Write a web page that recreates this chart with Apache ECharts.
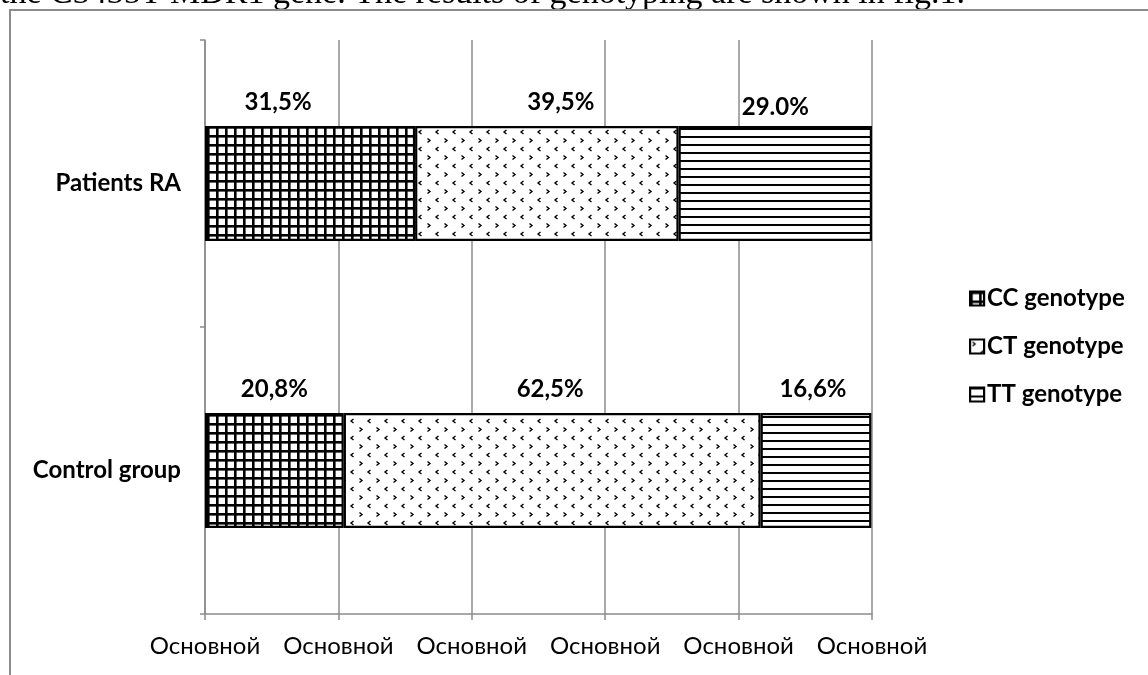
<!DOCTYPE html>
<html>
<head>
<meta charset="utf-8">
<script src="https://cdn.jsdelivr.net/npm/echarts@6/dist/echarts.min.js"></script>
<style>
  html, body { margin: 0; padding: 0; background: #fff; }
  #chart { width: 1148px; height: 675px; }
</style>
</head>
<body>
<div id="chart"></div>
<script>
// Groups on the category axis (bottom to top)
const groups = ['Control group', 'Patients RA'];
// Genotype shares, % (order follows groups)
const ccValues = [20.8, 31.5];
const ctValues = [62.5, 39.5];
const ttValues = [16.6, 29.0];
// Percent labels as printed above each segment
const ccLabels = ['20,8%', '31,5%'];
const ctLabels = ['62,5%', '39,5%'];
const ttLabels = ['16,6%', '29.0%'];
// Series names
const seriesNames = ['CC genotype', 'CT genotype', 'TT genotype'];
// x-axis tick text
const xTickText = 'Основной';

const FONT = 'Lato, "Open Sans", sans-serif';

// Hand-placed label nudges [dx, dy] per series, per group
const labelNudges = [
  [[0, 0], [-32, 0]],
  [[-2, 0], [14, 0]],
  [[-3, 0], [0, 5]]
];

// Fill patterns built on small canvases
function makeTile(w, h, draw) {
  const c = document.createElement('canvas');
  c.width = w; c.height = h;
  const ctx = c.getContext('2d');
  ctx.fillStyle = '#fff';
  ctx.fillRect(0, 0, w, h);
  draw(ctx);
  return { image: c, repeat: 'repeat' };
}
const gridPattern = makeTile(9, 9, ctx => {
  ctx.fillStyle = '#000';
  ctx.fillRect(0, 0, 9, 2.6);
  ctx.fillRect(0, 0, 2.6, 9);
});
const dotPattern = makeTile(17, 17, ctx => {
  ctx.strokeStyle = '#000';
  ctx.lineWidth = 1.4;
  // ">" mark
  ctx.beginPath();
  ctx.moveTo(2.5, 2.5); ctx.lineTo(5, 4.5); ctx.lineTo(2.5, 6.5);
  ctx.stroke();
  // "<" mark
  ctx.beginPath();
  ctx.moveTo(13.5, 11); ctx.lineTo(11, 13); ctx.lineTo(13.5, 15);
  ctx.stroke();
});
const linePattern = makeTile(8, 8, ctx => {
  ctx.fillStyle = '#000';
  ctx.fillRect(0, 0, 8, 2);
});

function barSeries(idx, values, texts, pattern) {
  return {
    name: seriesNames[idx],
    type: 'bar',
    stack: 'total',
    barWidth: '40%',
    data: values.map((v, i) => ({
      value: v,
      label: { offset: labelNudges[idx][i] }
    })),
    itemStyle: { color: pattern, borderColor: '#000', borderWidth: 2.2 },
    label: {
      show: true,
      position: 'top',
      distance: 12,
      color: '#000',
      fontFamily: FONT,
      fontWeight: 'bold',
      fontSize: 24,
      formatter: p => texts[p.dataIndex]
    },
    emphasis: { disabled: true }
  };
}

const chart = echarts.init(document.getElementById('chart'), null, { renderer: 'canvas' });
chart.setOption({
  animation: false,
  backgroundColor: '#fff',
  grid: { left: 205, right: 276, top: 40, bottom: 61, containLabel: false },
  xAxis: {
    type: 'value',
    min: 0,
    max: 100,
    interval: 20,
    axisLine: { show: true, lineStyle: { color: '#8c8c8c', width: 1.5 } },
    axisTick: { show: true, length: 6, lineStyle: { color: '#8c8c8c', width: 1.5 } },
    splitLine: { show: true, lineStyle: { color: '#8c8c8c', width: 1.5 } },
    axisLabel: {
      margin: 20,
      color: '#000',
      fontFamily: FONT,
      fontSize: 24,
      formatter: () => xTickText
    }
  },
  yAxis: {
    type: 'category',
    data: groups,
    axisLine: { show: true, lineStyle: { color: '#8c8c8c', width: 1.5 } },
    axisTick: { show: true, length: 5, lineStyle: { color: '#8c8c8c', width: 1.5 } },
    axisLabel: {
      margin: 24,
      color: '#000',
      fontFamily: FONT,
      fontWeight: 'bold',
      fontSize: 24
    }
  },
  legend: {
    orient: 'vertical',
    left: 969,
    top: 284,
    padding: 0,
    itemWidth: 14,
    itemHeight: 14,
    itemGap: 19,
    icon: 'rect',
    itemStyle: { borderColor: '#000', borderWidth: 2.2 },
    textStyle: { color: '#000', fontFamily: FONT, fontWeight: 'bold', fontSize: 24, lineHeight: 29, padding: [0, 0, 0, -2] },
    data: seriesNames
  },
  series: [
    barSeries(0, ccValues, ccLabels, gridPattern),
    barSeries(1, ctValues, ctLabels, dotPattern),
    barSeries(2, ttValues, ttLabels, linePattern)
  ],
  graphic: [
    {
      type: 'text',
      left: 0,
      top: -23,
      style: {
        text: 'the C3435T MDR1 gene. The results of genotyping are shown in fig.1.',
        fontFamily: '"Liberation Serif", "Times New Roman", serif',
        fontSize: 34,
        fill: '#000'
      },
      z: 10
    },
    {
      type: 'polyline',
      shape: { points: [[10, 675], [10, 10], [1148, 10]] },
      style: { stroke: '#8c8c8c', lineWidth: 2, fill: null },
      z: 11
    }
  ]
});
</script>
</body>
</html>
